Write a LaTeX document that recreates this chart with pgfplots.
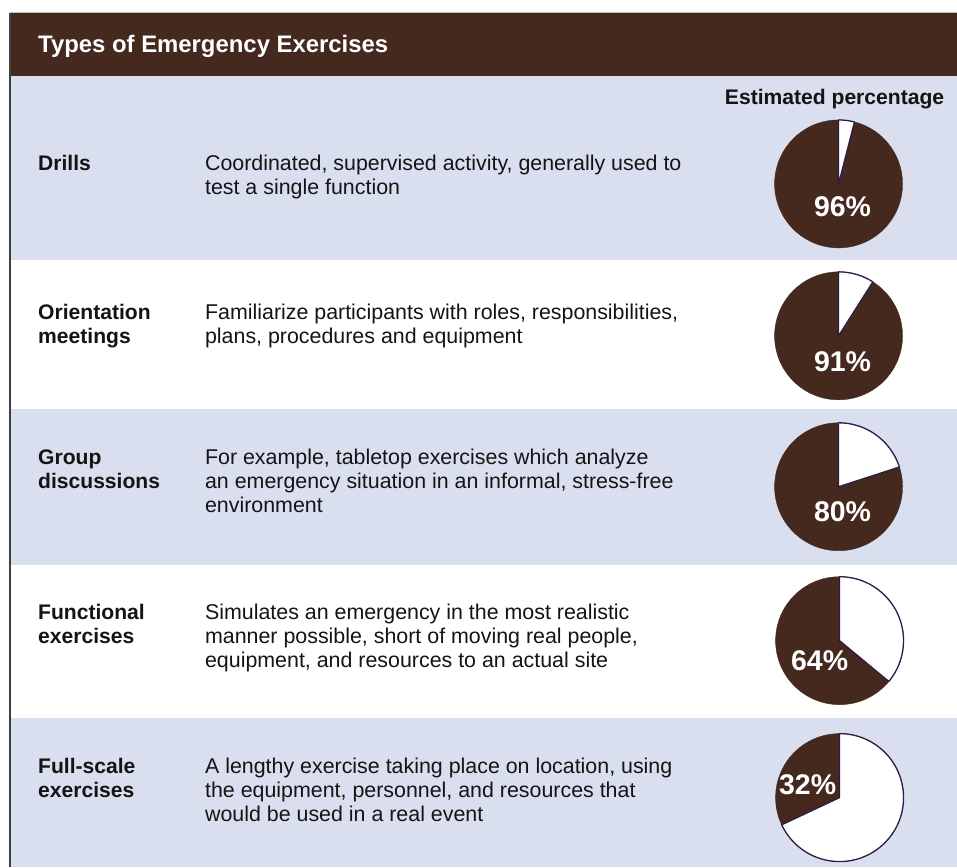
\documentclass[border=0pt]{standalone}
\usepackage{fontspec}
\setmainfont{Liberation Sans}
\usepackage{pgfplots}
\usepackage{pgfplotstable}
\pgfplotsset{compat=1.18}

\definecolor{barbrown}{HTML}{45291F}
\definecolor{rowblue}{HTML}{D9DFEF}
\definecolor{pieline}{HTML}{2E1D45}
\definecolor{textdark}{HTML}{141414}

% pie centre, share in percent, label offset from centre (pixels, down = +)
\pgfplotstableread{
cx  cy  pct lx  ly
839 184 96  4   23
839 336 91  4   26
839 487 80  4   25
840 641 64  -20 20
840 798 32  -32 -13
}\piedata

\newcommand\bodyfont{\fontsize{21.4}{24}\selectfont}
\newcommand\labfont{\fontsize{21.1}{24}\selectfont\bfseries}

\begin{document}
\begin{tikzpicture}
\begin{axis}[
    scale only axis,
    width=957pt, height=867pt,
    xmin=0, xmax=957, ymin=0, ymax=867,
    y dir=reverse,
    hide axis, clip=false,
]
% backgrounds
\fill[white] (axis cs:0,0) rectangle (axis cs:957,867);
\fill[rowblue] (axis cs:10,76) rectangle (axis cs:957,260);
\fill[rowblue] (axis cs:10,409) rectangle (axis cs:957,565);
\fill[rowblue] (axis cs:10,718) rectangle (axis cs:957,867);
\fill[barbrown] (axis cs:10,13) rectangle (axis cs:957,76);
\draw[black!25, line width=1pt] (axis cs:10,13) -- (axis cs:957,13);
\draw[black!75, line width=1.5pt] (axis cs:10,13) -- (axis cs:10,867);

% title and header
\node[anchor=base west, inner sep=0, text=white, font=\fontsize{23.9}{28}\selectfont\bfseries]
    at (axis cs:38,53) {Types of Emergency Exercises};
\node[anchor=base, inner sep=0, text=textdark, font=\labfont]
    at (axis cs:835,105) {Estimated percentage};

% row labels
\begin{scope}[every node/.style={anchor=base west, inner sep=0, text=textdark}]
\node[font=\labfont] at (axis cs:38,171) {Drills};
\node[font=\bodyfont] at (axis cs:205,171) {Coordinated, supervised activity, generally used to};
\node[font=\bodyfont] at (axis cs:205,195) {test a single function};

\node[font=\labfont] at (axis cs:38,320) {Orientation};
\node[font=\labfont] at (axis cs:38,344) {meetings};
\node[font=\bodyfont] at (axis cs:205,320) {Familiarize participants with roles, responsibilities,};
\node[font=\bodyfont] at (axis cs:205,344) {plans, procedures and equipment};

\node[font=\labfont] at (axis cs:38,465) {Group};
\node[font=\labfont] at (axis cs:38,489) {discussions};
\node[font=\bodyfont] at (axis cs:205,465) {For example, tabletop exercises which analyze};
\node[font=\bodyfont] at (axis cs:205,489) {an emergency situation in an informal, stress-free};
\node[font=\bodyfont] at (axis cs:205,513) {environment};

\node[font=\labfont] at (axis cs:38,620) {Functional};
\node[font=\labfont] at (axis cs:38,644) {exercises};
\node[font=\bodyfont] at (axis cs:205,620) {Simulates an emergency in the most realistic};
\node[font=\bodyfont] at (axis cs:205,644) {manner possible, short of moving real people,};
\node[font=\bodyfont] at (axis cs:205,668) {equipment, and resources to an actual site};

\node[font=\labfont] at (axis cs:38,774) {Full-scale};
\node[font=\labfont] at (axis cs:38,798) {exercises};
\node[font=\bodyfont] at (axis cs:205,774) {A lengthy exercise taking place on location, using};
\node[font=\bodyfont] at (axis cs:205,798) {the equipment, personnel, and resources that};
\node[font=\bodyfont] at (axis cs:205,822) {would be used in a real event};
\end{scope}

% pies, one per row, drawn as scatter markers
\addplot[
    scatter, only marks,
    mark=*, mark size=0.1pt, mark options={draw=none, fill=none},
    point meta=explicit,
    visualization depends on={\thisrow{pct} \as \pct},
    visualization depends on={\thisrow{lx} \as \lx},
    visualization depends on={\thisrow{ly} \as \ly},
    scatter/@pre marker code/.code={
        \fill[barbrown] (0,0) circle[radius=64pt];
        \pgfmathsetmacro\endang{90-3.6*(100-\pct)}
        \filldraw[fill=white, draw=pieline, line width=1.3pt, line join=round]
            (0,0) -- (90:64pt) arc[start angle=90, end angle=\endang, radius=64pt] -- cycle;
        \node[text=white, inner sep=0, font=\fontsize{28.5}{30}\selectfont\bfseries]
            at (\lx pt,-\ly pt) {\pgfmathprintnumber[fixed,precision=0,assume math mode=true]{\pct}\%};
    },
    scatter/@post marker code/.code={},
] table[x=cx, y=cy, meta=pct] {\piedata};
\end{axis}
\end{tikzpicture}
\end{document}
